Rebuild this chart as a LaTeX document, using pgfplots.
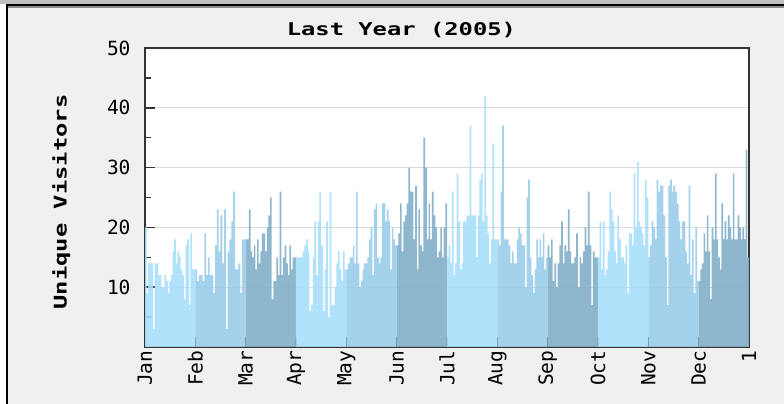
\documentclass[border=0pt]{standalone}
\usepackage{pgfplots}
\usepackage{pgfplotstable}
\pgfplotsset{compat=1.18}
\usepackage{fontspec}
\setmainfont{DejaVu Sans Mono}
\newfontfamily\titlefont[FakeStretch=1.36]{DejaVu Sans Mono}

\definecolor{cl}{RGB}{169,223,252}
\definecolor{cm}{RGB}{155,205,233}
\definecolor{cd}{RGB}{130,176,200}
\definecolor{bgc}{RGB}{240,240,240}
\definecolor{topc}{RGB}{192,192,192}

\pgfplotstableread{
v
20
9
14
14
14
3
14
14
12
12
10
10
12
11
9
11
12
16
18
14
16
15
13
12
8
17
18
7
19
13
13
}\janT
\pgfplotstableread{
v
13
11
12
12
11
19
12
15
12
12
9
17
23
16
22
14
23
3
16
18
21
26
13
13
14
9
18
18
}\febT
\pgfplotstableread{
v
18
18
23
16
15
17
13
18
14
16
19
19
16
20
22
25
8
11
11
15
12
26
12
15
17
14
12
17
13
15
15
}\marT
\pgfplotstableread{
v
15
15
15
15
16
17
18
16
6
7
15
21
12
21
26
17
6
13
21
5
26
7
7
10
14
16
13
11
16
13
}\aprT
\pgfplotstableread{
v
13
14
15
15
17
14
26
14
10
11
13
14
14
15
18
20
12
23
24
15
14
15
24
24
21
23
21
13
20
18
17
}\mayT
\pgfplotstableread{
v
17
19
24
16
21
22
24
30
26
26
18
27
13
23
17
16
35
30
18
24
18
26
22
20
15
16
20
15
20
24
}\junT
\pgfplotstableread{
v
15
17
14
26
12
14
29
21
13
14
21
21
22
22
37
22
22
22
15
22
28
29
21
42
22
19
14
18
34
18
18
}\julT
\pgfplotstableread{
v
18
17
26
37
18
18
18
17
14
16
14
14
18
20
19
17
17
10
25
28
15
12
9
13
18
15
18
15
19
13
15
}\augT
\pgfplotstableread{
v
17
15
18
11
14
10
14
17
21
14
17
16
23
16
14
14
15
19
10
15
14
16
20
17
26
17
7
16
15
15
}\sepT
\pgfplotstableread{
v
15
21
13
21
12
13
16
26
23
21
16
14
22
18
15
15
14
17
9
19
19
17
29
20
31
21
20
19
17
28
25
}\octT
\pgfplotstableread{
v
15
17
21
20
18
28
26
27
27
22
15
7
27
28
26
27
26
24
21
18
21
21
16
14
27
12
18
9
20
11
}\novT
\pgfplotstableread{
v
11
13
14
19
16
22
16
8
20
18
29
18
15
13
24
18
21
18
22
20
18
29
18
18
22
20
18
20
18
33
15
}\decT

\begin{document}
\begin{tikzpicture}
\path[use as bounding box] (0bp,0bp) rectangle (784bp,404bp);
\fill[white] (0bp,0bp) rectangle (784bp,404bp);
\fill[bgc] (7bp,0bp) rectangle (784bp,397bp);
\fill[topc] (0bp,400bp) rectangle (784bp,404bp);
\fill[black] (5.5bp,397.5bp) rectangle (784bp,399.5bp);
\fill[black] (5.5bp,0bp) rectangle (7.5bp,399.5bp);
\fill[black!45] (7.5bp,396.3bp) rectangle (784bp,397.5bp);
\begin{axis}[
  at={(145bp,57bp)}, anchor=south west,
  scale only axis, width=604bp, height=299bp,
  xmin=0, xmax=12, ymin=0, ymax=50,
  xtick={0,1,2,3,4,5,6,7,8,9,10,11,12},
  xticklabels={Jan,Feb,Mar,Apr,May,Jun,Jul,Aug,Sep,Oct,Nov,Dec,1},
  ytick={10,20,30,40,50},
  minor ytick={5,15,25,35,45},
  tick align=inside, tick pos=left,
  major tick length=10bp, minor tick length=6bp,
  every tick/.style={black!80, line width=1.5bp},
  axis line style={black!80, line width=1.6bp},
  ymajorgrids, grid style={black!14, line width=1.2bp},
  axis background/.style={fill=white},
  font=\fontsize{19.5bp}{20bp}\selectfont,
  /pgf/number format/assume math mode=true,
  xticklabel style={rotate=90, anchor=east, yshift=0bp},
  yticklabel style={xshift=-11bp},
  title={\titlefont\bfseries\fontsize{17.5bp}{18bp}\selectfont Last Year (2005)},
  title style={at={(axis description cs:0.4245,1)}, anchor=center, yshift=12bp},
  ylabel={\titlefont\bfseries\fontsize{17.5bp}{18bp}\selectfont Unique Visitors},
  ylabel style={at={(axis description cs:-0.1385,0.485)}, anchor=center},
  every axis plot/.append style={ybar, bar shift=0pt, draw=none, fill opacity=0.9},
]
\addplot[fill=cl, bar width=0.0330] table[x expr={0+(\coordindex+0.5)/31}, y=v] {\janT};
\addplot[fill=cm, bar width=0.0365] table[x expr={1+(\coordindex+0.5)/28}, y=v] {\febT};
\addplot[fill=cd, bar width=0.0330] table[x expr={2+(\coordindex+0.5)/31}, y=v] {\marT};
\addplot[fill=cl, bar width=0.0341] table[x expr={3+(\coordindex+0.5)/30}, y=v] {\aprT};
\addplot[fill=cm, bar width=0.0330] table[x expr={4+(\coordindex+0.5)/31}, y=v] {\mayT};
\addplot[fill=cd, bar width=0.0341] table[x expr={5+(\coordindex+0.5)/30}, y=v] {\junT};
\addplot[fill=cl, bar width=0.0330] table[x expr={6+(\coordindex+0.5)/31}, y=v] {\julT};
\addplot[fill=cm, bar width=0.0330] table[x expr={7+(\coordindex+0.5)/31}, y=v] {\augT};
\addplot[fill=cd, bar width=0.0341] table[x expr={8+(\coordindex+0.5)/30}, y=v] {\sepT};
\addplot[fill=cl, bar width=0.0330] table[x expr={9+(\coordindex+0.5)/31}, y=v] {\octT};
\addplot[fill=cm, bar width=0.0341] table[x expr={10+(\coordindex+0.5)/30}, y=v] {\novT};
\addplot[fill=cd, bar width=0.0330] table[x expr={11+(\coordindex+0.5)/31}, y=v] {\decT};
\end{axis}
\end{tikzpicture}
\end{document}
